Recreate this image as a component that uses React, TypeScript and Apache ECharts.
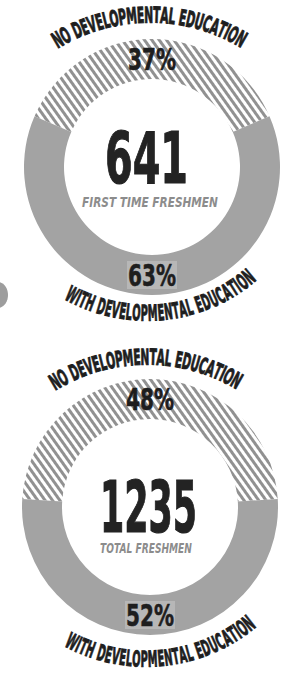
import React, { useEffect, useRef } from 'react';
import * as echarts from 'echarts';

// ---- data ----
const categories = ['No developmental education', 'With developmental education'];
const firstTimeShares = [37, 63];
const totalShares = [48, 52];
const headcounts = ['641', '1235'];
const captions = ['FIRST TIME FRESHMEN', 'TOTAL FRESHMEN'];
const arcTitles = ['NO DEVELOPMENTAL EDUCATION', 'WITH DEVELOPMENTAL EDUCATION'];

// ---- layout / style ----
const W = 284;
const H = 673;
const BOLD = "'DejaVu Sans', 'Liberation Sans', sans-serif";
const GRAY = '#a3a3a3';
const INK = '#1e1e1e';

const rings = [
  { cx: 152, cy: 167, shares: firstTimeShares, count: headcounts[0], caption: captions[0],
    num: { x: 146.5, y: 159, w: 83, size: 71 }, cap: { x: 150, y: 202, w: 136 },
    topArc: { dx: -2, dy: 33, r: 185, a0: -30, a1: 29.5 },
    botArc: { dx: -5, dy: -15, r: 161, a0: -27.7, a1: 39.2 } },
  { cx: 150, cy: 507, shares: totalShares, count: headcounts[1], caption: captions[1],
    num: { x: 148.5, y: 506.5, w: 97, size: 72 }, cap: { x: 146, y: 548, w: 92 },
    topArc: { dx: -3, dy: 32, r: 182, a0: -30.4, a1: 29.5 },
    botArc: { dx: -4, dy: -13, r: 165, a0: -26.6, a1: 38.5 } },
];

let ctx: CanvasRenderingContext2D | null = null;
function measure(text: string, font: string) {
  if (!ctx) ctx = document.createElement('canvas').getContext('2d');
  ctx!.font = font;
  return ctx!.measureText(text).width;
}

function fitText(text: string, x: number, y: number, font: string, width: number, fill: string, stroke = 0) {
  const s = width / measure(text, font);
  return {
    type: 'text', x, y, scaleX: s, silent: true, z: 10,
    style: { text, font, fill, stroke: stroke ? fill : undefined, lineWidth: stroke, align: 'center', verticalAlign: 'middle' },
  };
}

function arcLetters(text: string, cx: number, cy: number, r: number, a0: number, a1: number, top: boolean, font: string, fill: string) {
  const chars = Array.from(text);
  const w = chars.map((c) => measure(c, font));
  const total = w.reduce((a, b) => a + b, 0);
  const span = total - w[0] / 2 - w[w.length - 1] / 2;
  const arcLen = (r * (a1 - a0) * Math.PI) / 180;
  const s = arcLen / span;
  let acc = -w[0] / 2;
  const out: any[] = [];
  chars.forEach((c, i) => {
    const pos = acc + w[i] / 2;
    acc += w[i];
    if (c === ' ') return;
    const ang = (a0 * Math.PI) / 180 + (pos * s) / r;
    const x = cx + r * Math.sin(ang);
    const y = top ? cy - r * Math.cos(ang) : cy + r * Math.cos(ang);
    out.push({
      type: 'text', x, y, rotation: top ? -ang : ang, scaleX: s, silent: true,
      style: { text: c, font, fill, stroke: fill, lineWidth: 1, align: 'center', verticalAlign: 'middle' },
    });
  });
  return out;
}

export default function App() {
  const ref = useRef<HTMLDivElement>(null);
  useEffect(() => {
    if (!ref.current) return;
    const chart = echarts.init(ref.current, null, { renderer: 'svg', width: W, height: H });

    const option: any = {
      animation: false,
      backgroundColor: '#ffffff',
      series: rings.map((rg) => {
        const sum = rg.shares.reduce((a, b) => a + b, 0);
        return {
          type: 'pie',
          center: [rg.cx, rg.cy],
          radius: [88, 128],
          startAngle: 90 + (rg.shares[0] / sum) * 180,
          clockwise: true,
          silent: true,
          emphasis: { disabled: true },
          labelLine: { show: false },
          label: { show: false },
          data: categories.map((name, i) => ({
            name,
            value: rg.shares[i],
            itemStyle: i === 0
              ? { color: '#ffffff', decal: { symbol: 'rect', symbolSize: 1, dashArrayX: [1, 0], dashArrayY: [2.5, 3], rotation: Math.PI / 3.3, color: '#919191', backgroundColor: '#ffffff' } }
              : { color: GRAY },
          })),
        };
      }),
    };
    chart.setOption(option);

    const graphics: any[] = [];
    const pctFont = `bold 30px ${BOLD}`;
    rings.forEach((rg, k) => {
      // percentage labels placed from the pie's own layout
      const data = (chart as any).getModel().getSeriesByIndex(k).getData();
      rg.shares.forEach((v, i) => {
        const L = data.getItemLayout(i);
        const mid = (L.startAngle + L.endAngle) / 2;
        const rm = (L.r + L.r0) / 2;
        const x = L.cx + rm * Math.cos(mid);
        const y = L.cy + rm * Math.sin(mid);
        if (i === 1) {
          graphics.push({ type: 'rect', silent: true, z: 9, shape: { x: x - 25, y: y - 14, width: 50, height: 28 }, style: { fill: 'rgba(255,255,255,0.22)' } });
        }
        graphics.push(fitText(`${v}%`, x, y, pctFont, 48, INK, 0.6));
      });
      graphics.push(fitText(rg.count, rg.num.x, rg.num.y, `bold ${rg.num.size}px ${BOLD}`, rg.num.w, '#232323', 1.2));
      graphics.push(fitText(rg.caption, rg.cap.x, rg.cap.y, `italic bold 14px ${BOLD}`, rg.cap.w, '#8c8c8c'));
      graphics.push(...arcLetters(arcTitles[0], rg.cx + rg.topArc.dx, rg.cy + rg.topArc.dy, rg.topArc.r,
        rg.topArc.a0, rg.topArc.a1, true, `bold 22px ${BOLD}`, INK));
      graphics.push(...arcLetters(arcTitles[1], rg.cx + rg.botArc.dx, rg.cy + rg.botArc.dy, rg.botArc.r,
        rg.botArc.a0, rg.botArc.a1, false, `bold 22px ${BOLD}`, INK));
    });
    graphics.push({ type: 'ellipse', silent: true, shape: { cx: -2, cy: 295, rx: 10, ry: 13 }, style: { fill: '#9d9d9d' } });

    chart.setOption({ graphic: { elements: graphics } });
    return () => chart.dispose();
  }, []);
  return <div ref={ref} style={{ position: 'fixed', left: 0, top: 0, width: W, height: H }} />;
}
